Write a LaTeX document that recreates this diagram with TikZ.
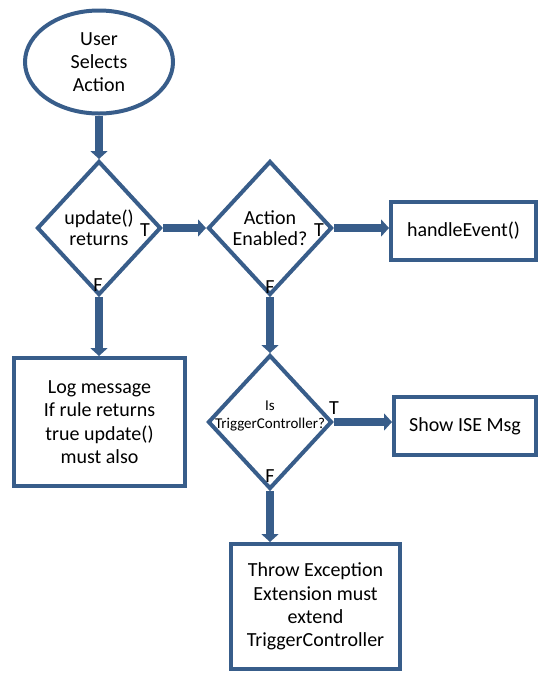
\documentclass[tikz,border=0pt]{standalone}
\usepackage{fontspec}
\setmainfont{Carlito}
\usetikzlibrary{shapes.geometric}
\usetikzlibrary{arrows.meta}
\definecolor{flowblue}{RGB}{56,93,138}

\begin{document}
\begin{tikzpicture}[x=1pt,y=-1pt,
  start/.style={draw=flowblue,line width=4pt,ellipse,align=center,font=\fontsize{20}{23.3}\selectfont},
  box/.style={draw=flowblue,line width=4pt,rectangle,align=center,font=\fontsize{20}{23.3}\selectfont},
  decision/.style={draw=flowblue,line width=4pt,diamond,inner sep=0pt,minimum width=124pt,minimum height=134pt},
  dtext/.style={align=center,font=\fontsize{20}{21.5}\selectfont},
  dsmall/.style={align=center,font=\fontsize{15}{18}\selectfont},
  flow/.style={draw=flowblue,line width=8pt,-{Triangle[width=17pt,length=8pt]}},
  branch/.style={inner sep=0pt,font=\fontsize{20}{22}\selectfont}]
\useasboundingbox (0,0) rectangle (540,673);

\node[start,minimum width=148pt,minimum height=103pt] (user) at (99,62) {User\\Selects\\Action};
\node[decision,label={[dtext]center:update()\\returns}] (upd) at (99,228) {};
\node[decision,label={[dtext]center:Action\\Enabled?}] (enabled) at (270,228) {};
\node[decision,label={[dsmall,yshift=6pt]center:Is\\TriggerController?}] (trig) at (270,422) {};
\node[box,minimum width=145pt,minimum height=58pt] (handle) at (463.5,231) {handleEvent()};
\node[box,minimum width=142pt,minimum height=58pt] (show) at (465,426) {Show ISE Msg};
\node[box,minimum width=171pt,minimum height=128pt] (log) at (99.5,422) {Log message\\If rule returns\\true update()\\must also};
\node[box,minimum width=169pt,minimum height=125pt] (throw) at (315.5,606.5) {Throw Exception\\Extension must\\extend\\TriggerController};

\draw[flow] (user.south) -- (upd.north);
\draw[flow] (upd.east) -- (enabled.west);
\draw[flow] (enabled.east) -- (enabled.east -| handle.west);
\draw[flow] (upd.south) -- (upd.south |- log.north);
\draw[flow] (enabled.south) -- (trig.north);
\draw[flow] (trig.east) -- (trig.east -| show.west);
\draw[flow] (trig.south) -- (trig.south |- throw.north);

\node[branch] (updT) at (145,230) {T};
\node[branch] (updF) at (98,285) {F};
\node[branch] (enabledT) at (319,230) {T};
\node[branch] (enabledF) at (270,287) {F};
\node[branch] (trigT) at (334,408) {T};
\node[branch] (trigF) at (270,476) {F};

\end{tikzpicture}
\end{document}
